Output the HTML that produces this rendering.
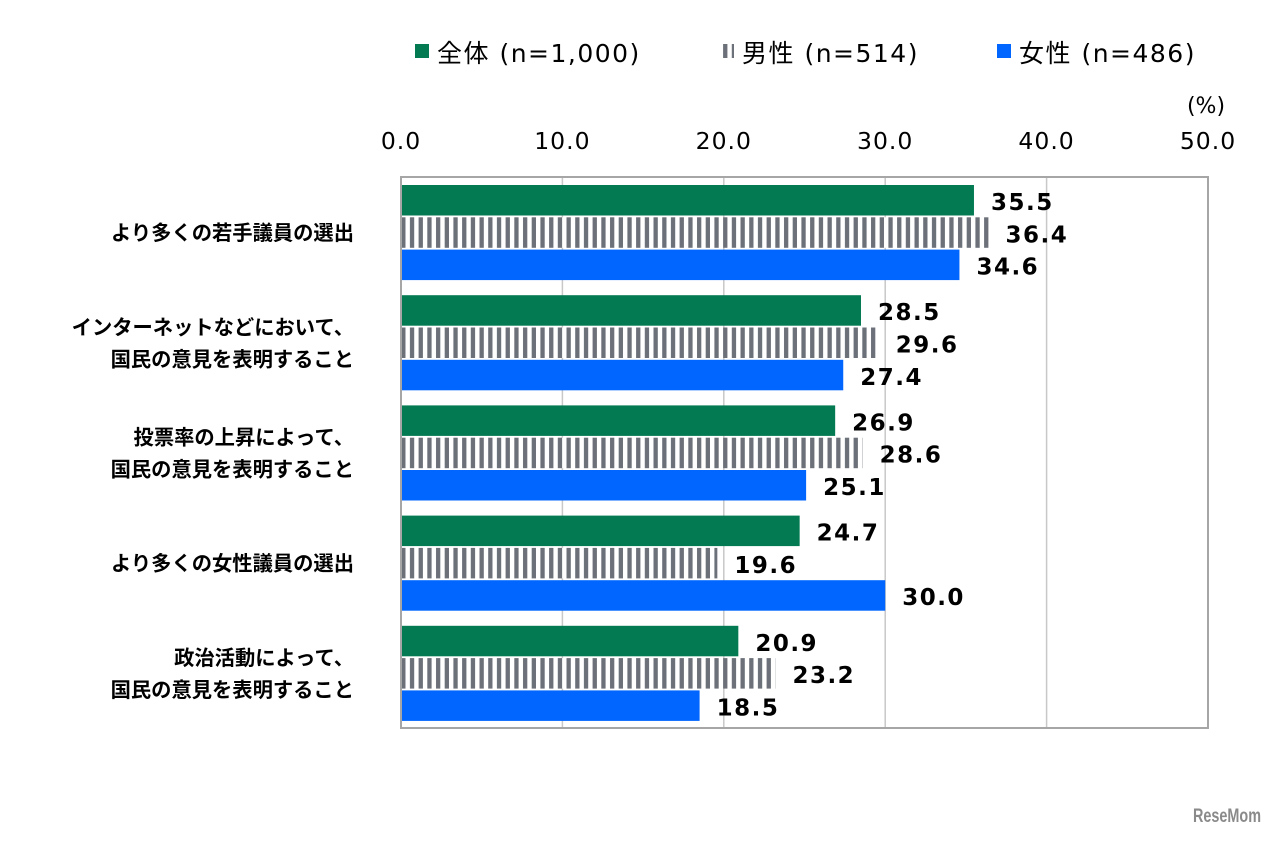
<!DOCTYPE html>
<html><head><meta charset="utf-8"><style>
body{margin:0;background:#fff;width:1280px;height:840px;overflow:hidden;font-family:"DejaVu Sans","Noto Sans CJK JP",sans-serif}
</style></head><body>
<svg width="1280" height="840" xmlns="http://www.w3.org/2000/svg">
<defs><pattern id="stripe" width="8.7" height="10" patternUnits="userSpaceOnUse"><rect width="8.7" height="10" fill="#fff"/><rect x="1" width="4.3" height="10" fill="#6b7079"/></pattern></defs>
<g id="g"></g>
</svg>
<script>
const categories=[["より多くの若手議員の選出"],["インターネットなどにおいて、","国民の意見を表明すること"],["投票率の上昇によって、","国民の意見を表明すること"],["より多くの女性議員の選出"],["政治活動によって、","国民の意見を表明すること"]];
const seriesNames=["全体 (n=1,000)","男性 (n=514)","女性 (n=486)"];
const allValues=[35.5,28.5,26.9,24.7,20.9];
const maleValues=[36.4,29.6,28.6,19.6,23.2];
const femaleValues=[34.6,27.4,25.1,30.0,18.5];
const ticks=[0,10,20,30,40,50];
const NS="http://www.w3.org/2000/svg",g=document.getElementById('g');
const X0=401,X1=1208,Y0=177,Y1=728;
const x=v=>X0+(v-ticks[0])/(ticks[ticks.length-1]-ticks[0])*(X1-X0);
const band=(Y1-Y0)/categories.length;
function el(t,a,txt){const e=document.createElementNS(NS,t);for(const k in a)e.setAttribute(k,a[k]);if(txt!=null)e.textContent=txt;g.appendChild(e);return e;}
ticks.forEach((t,i)=>{
 if(i>0&&i<ticks.length-1){const l=el('line',{x1:x(t),x2:x(t),y1:Y0,y2:Y1,stroke:'#c8c8c8','stroke-width':1.5});}
 const tx=el('text',{x:x(t),y:149,'text-anchor':'middle','font-size':23.5,'letter-spacing':1,fill:'#000'},t.toFixed(1));
 
});
const u=el('text',{x:1206,y:113,'text-anchor':'middle','font-size':22},'(%)');

const fills=['#047a52','url(#stripe)','#0066ff'];
const series=[allValues,maleValues,femaleValues];
categories.forEach((c,i)=>{
 const top=Y0+i*band+8;
 series.forEach((s,j)=>{
  const y=top+j*32.3;
  const r=el('rect',{x:X0,y:y,width:x(s[i])-X0,height:30.5,fill:fills[j]});
  
  
  const v=el('text',{x:x(s[i])+17,y:y+25,'font-size':23,'font-weight':'bold','letter-spacing':1.5},s[i].toFixed(1));
  
 });
 const cy=Y0+i*band+band/2;
 c.forEach((line,k)=>{
  const t=el('text',{x:354,y:cy+8+(k-(c.length-1)/2)*32,'text-anchor':'end','font-size':20.3,'font-weight':'bold'},line);
  
 });
});
const ax=el('rect',{x:X0,y:Y0,width:X1-X0,height:Y1-Y0,fill:'none',stroke:'#a6a6a6','stroke-width':2});

const lx=[415,720,997];
seriesNames.forEach((n,j)=>{
 const sw=el('rect',{x:lx[j],y:44,width:14,height:14,fill:fills[j]});
 
 const t=el('text',{x:lx[j]+22,y:62,'font-size':25,'letter-spacing':1.5},n);
 
});
const w=el('text',{x:1193,y:822,'font-size':19,'font-weight':'bold',fill:'#8a8a8a','font-family':'Liberation Sans',textLength:68,lengthAdjust:'spacingAndGlyphs'},'ReseMom');

</script>
</body></html>
